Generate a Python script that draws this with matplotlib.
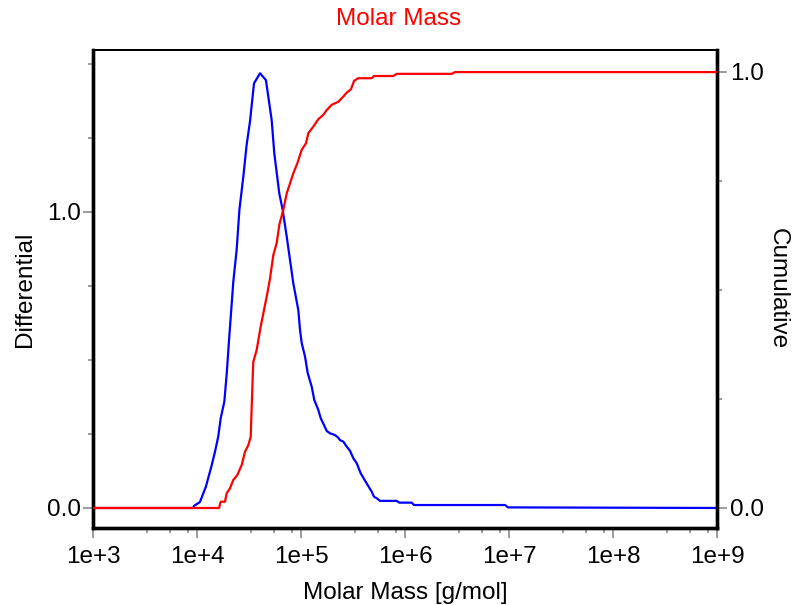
import matplotlib
matplotlib.use("Agg")
import matplotlib.pyplot as plt
from matplotlib.ticker import FixedLocator, NullFormatter

plt.rcParams['font.family'] = ['Liberation Sans', 'DejaVu Sans']

# differential distribution (blue, left axis)
diff_mass = [1e3, 9150, 9290, 10600, 12100, 13700, 14800, 15900, 16800, 18200,
             19200, 20200, 22200, 23900, 25400, 27700, 29800, 32100, 35100, 40100,
             45700, 51900, 55000, 61400, 66200, 72400, 83800, 93600, 97200, 101000,
             108600, 115300, 126000, 133400, 145700, 153700, 165300, 175400, 188800, 210900,
             227000, 235600, 253500, 273500, 294000, 316300, 341100, 372600, 410100, 440700,
             475400, 500200, 530900, 571300, 826700, 875700, 1153000, 1213000, 9100000, 9720000,
             1e9]
diff_vals = [0.0, 0.0, 0.007, 0.020, 0.072, 0.142, 0.190, 0.241, 0.303, 0.359,
             0.455, 0.567, 0.764, 0.871, 1.006, 1.118, 1.225, 1.304, 1.433, 1.467,
             1.444, 1.309, 1.197, 1.062, 1.006, 0.916, 0.758, 0.668, 0.601, 0.556,
             0.511, 0.455, 0.409, 0.364, 0.331, 0.303, 0.280, 0.260, 0.252, 0.246,
             0.237, 0.229, 0.224, 0.207, 0.193, 0.168, 0.151, 0.117, 0.092, 0.074,
             0.055, 0.038, 0.033, 0.024, 0.024, 0.018, 0.018, 0.010, 0.010, 0.002,
             0.0]

# cumulative distribution (red, right axis)
cum_mass = [1e3, 16170, 16790, 18450, 19170, 20620, 22190, 24260, 26730, 28760,
            30930, 32610, 33350, 34540, 37210, 40700, 47150, 50030, 53840, 58000,
            61430, 67100, 72410, 77890, 83800, 91600, 100900, 111000, 116800, 130400,
            145700, 162800, 175500, 196000, 226900, 253500, 273500, 300800, 321600, 353400,
            475400, 500200, 767100, 826700, 2793000, 3005000, 1e9]
cum_vals = [0.0, 0.0, 0.0144, 0.0144, 0.0337, 0.0452, 0.0642, 0.0756, 0.0986, 0.129,
            0.144, 0.163, 0.232, 0.335, 0.362, 0.416, 0.492, 0.526, 0.580, 0.607,
            0.649, 0.683, 0.721, 0.744, 0.767, 0.790, 0.821, 0.836, 0.859, 0.874,
            0.891, 0.901, 0.912, 0.924, 0.931, 0.943, 0.952, 0.960, 0.979, 0.985,
            0.985, 0.990, 0.990, 0.995, 0.995, 0.999, 0.999]

x_ticks = [1e3, 1e4, 1e5, 1e6, 1e7, 1e8, 1e9]
x_labels = ['1e+3', '1e+4', '1e+5', '1e+6', '1e+7', '1e+8', '1e+9']
minor_steps = [3.3, 5.5, 8.1]

FS = 17.5
tick_gray = '#808080'

fig = plt.figure(figsize=(7.98, 6.05), dpi=100)
ax = fig.add_axes([0.1169, 0.1273, 0.782, 0.7901])
ax2 = ax.twinx()

ax.plot(diff_mass, diff_vals, color='#0000ff', linewidth=1.6, zorder=3)
ax2.plot(cum_mass, cum_vals, color='#ff0000', linewidth=1.6, zorder=3)

ax.set_xscale('log')
ax.set_xlim(1e3, 1e9)
ax.set_ylim(-0.0675, 1.5457)
ax2.set_ylim(-0.0458, 1.0497)

ax.xaxis.set_major_locator(FixedLocator(x_ticks))
ax.set_xticklabels(x_labels)
minors = [s * 10 ** k for k in range(3, 9) for s in minor_steps]
ax.xaxis.set_minor_locator(FixedLocator(minors))
ax.xaxis.set_minor_formatter(NullFormatter())

ax.set_yticks([0.0, 1.0])
ax.set_yticklabels(['0.0', '1.0'])
ax.yaxis.set_minor_locator(FixedLocator([0.25, 0.5, 0.75, 1.25, 1.5]))
ax2.set_yticks([0.0, 1.0])
ax2.set_yticklabels(['0.0', '1.0'])
ax2.yaxis.set_minor_locator(FixedLocator([0.25, 0.5, 0.75]))

for a in (ax, ax2):
    a.tick_params(which='major', length=7, width=1.1, color=tick_gray,
                  labelsize=FS, pad=2)
    a.tick_params(which='minor', length=3.6, width=1.1, color=tick_gray)
    for side in ('left', 'right', 'bottom'):
        a.spines[side].set_linewidth(2.4)
    a.spines['top'].set_linewidth(1.4)
ax.tick_params(axis='x', which='major', pad=6)

ax.set_xlabel('Molar Mass [g/mol]', fontsize=FS, labelpad=10)
ax.set_ylabel('Differential', fontsize=FS, labelpad=8)
ax2.set_ylabel('Cumulative', fontsize=FS, rotation=-90, labelpad=18)

fig.text(0.5, 0.968, 'Molar Mass', color='#ff0000', fontsize=FS,
         ha='center', va='center')

fig.savefig('out.png', dpi=100)
